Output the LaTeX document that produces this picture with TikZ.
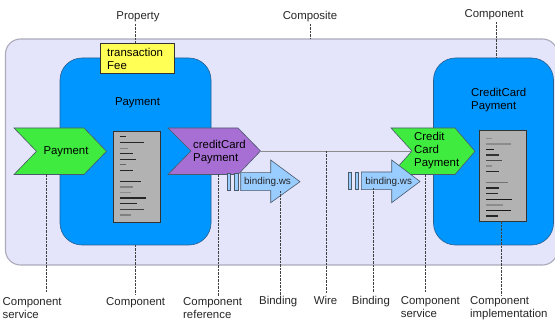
\documentclass[tikz,border=0pt]{standalone}
\usepackage{fontspec}
\setmainfont{Liberation Sans}
\definecolor{compositefill}{HTML}{E4E4FB}
\definecolor{compositeedge}{HTML}{ABABBB}
\definecolor{compblue}{HTML}{0096FF}
\definecolor{compedge}{HTML}{2A5E8C}
\definecolor{svcgreen}{HTML}{3EEB3E}
\definecolor{refpurple}{HTML}{A76FD4}
\definecolor{propyellow}{HTML}{FFFF55}
\definecolor{implgray}{HTML}{B2B2B2}
\definecolor{bindblue}{HTML}{99CCFF}
\definecolor{shapeedge}{HTML}{4A5A6A}
\definecolor{labelink}{HTML}{262626}
\tikzset{
  x=1pt,y=-1pt,
  composite/.style={draw=compositeedge,fill=compositefill,line width=1.1pt,rounded corners=15pt,minimum width=552pt,minimum height=226pt,inner sep=0pt},
  comp/.style={draw=compedge,fill=compblue,line width=.6pt,rounded corners=22pt,inner sep=0pt},
  impl/.style={draw=black!80,fill=implgray,line width=.8pt,minimum width=47pt,minimum height=91pt,inner sep=0pt},
  prop/.style={draw=black!80,fill=propyellow,line width=.6pt,minimum width=74.5pt,minimum height=30pt,inner sep=0pt},
  chev/.style={draw=shapeedge,line width=.6pt,line join=miter},
  bind/.style={draw=shapeedge,fill=bindblue,line width=.6pt},
  txt/.style={inner sep=0pt,text=black,font=\fontsize{11.4}{13}\selectfont,align=left,yshift=-1.2pt},
  lbl/.style={inner sep=0pt,text=labelink,font=\fontsize{11.4}{13}\selectfont,align=left,anchor=north west,yshift=-1.2pt},
  btxt/.style={inner sep=0pt,text=black!85,font=\fontsize{9.9}{12}\selectfont,yshift=-.8pt},
  callout/.style={draw=black!75,line width=.55pt,dash pattern=on 2.2pt off 1.3pt},
  wire/.style={draw=black!45,line width=.8pt},
  code/.style={line width=1.2pt}
}
\begin{document}
\begin{tikzpicture}
\clip (0,0) rectangle (555,326);
\node[composite] (composite) at (281.5,152) {};
\node[comp,minimum width=151pt,minimum height=187pt] (compA) at (135.5,151.5) {};
\node[comp,minimum width=120pt,minimum height=187pt] (compB) at (493.5,151.5) {};
\node[impl] (implA) at (137,176.5) {};
\node[impl] (implB) at (503.3,176) {};
\node[prop] (prop) at (137.2,58) {};
\foreach \y/\e/\c in {136.7/126/85,142.7/144/85,148.3/128/50,153.7/133/85,159.3/136/85,164.7/126/60,170.3/133/85,181.7/141/85,187/133/50,192.7/131/45,198/146/85,203.7/137/85,209.3/144/75,215/131/50}
  \draw[code,black!\c] (120,\y) -- (\e,\y);
\foreach \y/\e/\c in {138.3/492/45,144/511/45,149.3/494/90,155/499/80,160.3/502/70,166/492/45,171.7/499/85,182.7/508/55,188/499/85,193.7/498/85,199.7/512/90,205/503/45,210.3/511/90,216/498/85}
  \draw[code,black!\c] (486,\y) -- (\e,\y);
% services and references
\draw[chev,fill=svcgreen] (14,128) coordinate (svcAnw) -- (84,128) -- (106.5,151.3) -- (84,174.5) -- (14,174.5) -- (36.5,151.3) -- cycle;
\draw[chev,fill=refpurple] (168,128) -- (238,128) -- (260.5,151) coordinate (refTip) -- (238,174.5) -- (168,174.5) -- (191,151) -- cycle;
\draw[chev,fill=svcgreen] (391,128) -- (455,128) -- (475,151.3) -- (455,174.5) -- (391,174.5) -- (412,151) coordinate (svcNotch) -- cycle;
% wire
\draw[wire] (refTip) -- (svcNotch);
% bindings
\draw[bind] (227.7,173.3) rectangle (230.7,190);
\draw[bind] (234.3,173.3) rectangle (238,190);
\draw[bind] (348.3,172.3) rectangle (351.3,189);
\draw[bind] (355,172.3) rectangle (358.7,189);
\draw[bind] (240.7,172.7) -- (270.7,172.7) -- (270.7,160) -- (300,181.7) -- (270.7,202.7) -- (270.7,190.7) -- (240.7,190.7) -- cycle;
\draw[bind] (361.3,172) -- (391.7,172) -- (391.7,160) -- (420,181.5) -- (391.7,202.7) -- (391.7,189.7) -- (361.3,189.7) -- cycle;
% inner texts
\node[txt,anchor=west] (propText) at (107,57.5) {transaction\\Fee};
\node[txt] (compAText) at (137.5,102) {Payment};
\node[txt,anchor=west] (compBText) at (471,98.5) {CreditCard\\Payment};
\node[txt] (svcAText) at (66,150.5) {Payment};
\node[txt,anchor=west] (refText) at (193,151) {creditCard\\Payment};
\node[txt,anchor=west] (svcBText) at (414,149.5) {Credit\\Card\\Payment};
\node[btxt] (bindAText) at (267.5,181.5) {binding.ws};
\node[btxt] (bindBText) at (388.7,181) {binding.ws};
% labels
\node[txt] (lProperty) at (138,15.5) {\textcolor{labelink}{Property}};
\node[txt] (lComposite) at (310,15) {\textcolor{labelink}{Composite}};
\node[txt] (lComponentTop) at (494,14) {\textcolor{labelink}{Component}};
\node[lbl] (lSvcA) at (2.5,296) {Component\\service};
\node[lbl] (lComponent) at (106,296) {Component};
\node[lbl] (lRef) at (183,296) {Component\\reference};
\node[lbl] (lBindA) at (259,295) {Binding};
\node[lbl] (lWire) at (313.7,295) {Wire};
\node[lbl] (lBindB) at (351.7,295) {Binding};
\node[lbl] (lSvcB) at (400.7,295) {Component\\service};
\node[lbl] (lImpl) at (470,295) {Component\\implementation};
% callout ends
\coordinate (a1) at (135,24); \coordinate (a2) at (135,43);
\coordinate (b1) at (310.3,24); \coordinate (b2) at (310.3,39);
\coordinate (c1) at (496.7,22); \coordinate (c2) at (496.7,58);
\coordinate (d1) at (46.3,174.5); \coordinate (d2) at (46.3,293);
\coordinate (e1) at (135.3,245); \coordinate (e2) at (135.3,295);
\coordinate (f1) at (218.7,174.5); \coordinate (f2) at (218.7,296);
\coordinate (g1) at (280,191); \coordinate (g2) at (280,295);
\coordinate (h1) at (326,151); \coordinate (h2) at (326,293);
\coordinate (i1) at (373.3,188); \coordinate (i2) at (373.3,293);
\coordinate (j1) at (425.7,174.5); \coordinate (j2) at (425.7,293);
\coordinate (k1) at (501.7,221.5); \coordinate (k2) at (501.7,296);
\foreach \p/\q in {a1/a2,b1/b2,c1/c2,d1/d2,e1/e2,f1/f2,g1/g2,h1/h2,i1/i2,j1/j2,k1/k2}
  \draw[callout] (\p) -- (\q);
\end{tikzpicture}
\end{document}
